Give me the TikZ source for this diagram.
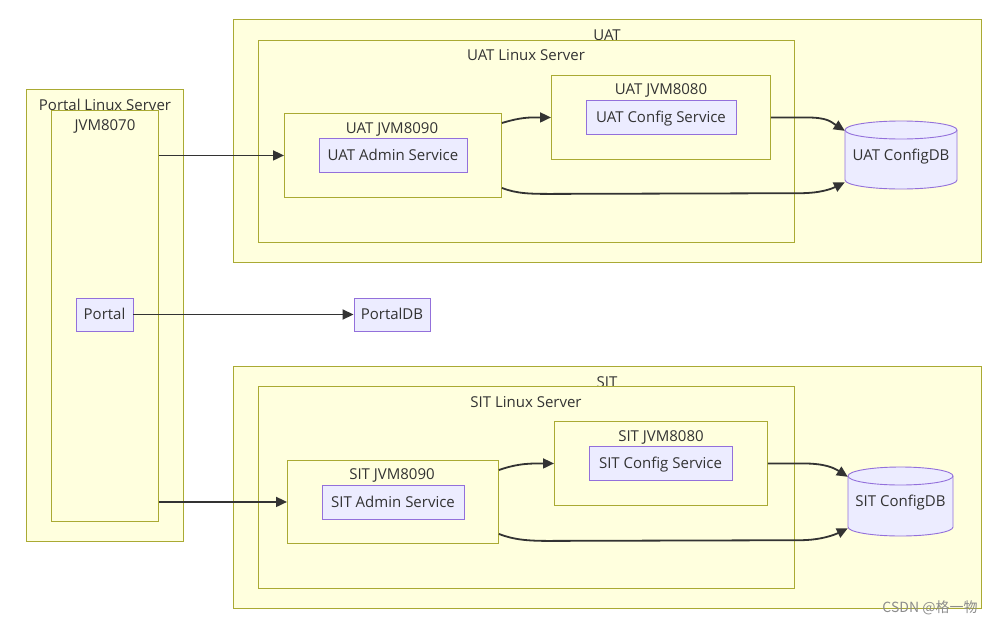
\documentclass[tikz,border=0pt]{standalone}
\usepackage{fontspec}
\setmainfont{Open Sans}
\newfontfamily\cjkfont{Noto Sans CJK SC}
\usetikzlibrary{arrows.meta,calc}
\definecolor{clfill}{HTML}{FFFFDE}
\definecolor{clline}{HTML}{AAAA33}
\definecolor{ndfill}{HTML}{ECECFF}
\definecolor{ndline}{HTML}{9370DB}
\definecolor{txt}{HTML}{333333}
\definecolor{edgec}{HTML}{333333}
\begin{document}
\begin{tikzpicture}[x=1pt,y=-1pt,
  cluster/.style={draw=clline, fill=clfill, line width=0.9pt, inner sep=0, anchor=north west},
  svc/.style={draw=ndline, fill=ndfill, line width=0.9pt, inner sep=0, text=txt, text height=13pt, text depth=3pt, font=\fontsize{15}{17}\selectfont},
  lbl/.style={text=txt, inner sep=0, font=\fontsize{15}{17}\selectfont},
  dblbl/.style={text=txt, inner sep=0, text height=13pt, text depth=3pt, font=\fontsize{15}{17}\selectfont},
  dbline/.style={draw=ndline, line width=0.9pt},
  flow/.style={draw=edgec, line width=1.8pt, -{Triangle[length=11pt,width=10pt]}}
]
\useasboundingbox (0,0) rectangle (1008,624);

% Portal cluster
\node[cluster, minimum width=157, minimum height=452] (portalsrv) at (26,89) {};
\node[lbl] (portalsrvlbl) at (105,105) {Portal Linux Server};
\node[cluster, minimum width=107, minimum height=411] (jvm8070) at (51,110) {};
\node[lbl] (jvm8070lbl) at (105,126) {JVM8070};
\node[svc, minimum width=57, minimum height=33] (portal) at (104.5,314.5) {Portal};
\node[svc, minimum width=76, minimum height=33] (portaldb) at (392,314.5) {PortalDB};

% UAT
\node[cluster, minimum width=748, minimum height=243] (uat) at (233,19) {};
\node[lbl] (uatlbl) at (607,35) {UAT};
\node[cluster, minimum width=536, minimum height=202] (uatsrv) at (258,40) {};
\node[lbl] (uatsrvlbl) at (526,55) {UAT Linux Server};
\node[cluster, minimum width=219, minimum height=84] (uat8080) at (551,75) {};
\node[lbl] (uat8080lbl) at (661,90) {UAT JVM8080};
\node[svc, minimum width=150, minimum height=34] (uatcfg) at (661,117) {UAT Config Service};
\node[cluster, minimum width=217, minimum height=84] (uat8090) at (284,113) {};
\node[lbl] (uat8090lbl) at (392,129) {UAT JVM8090};
\node[svc, minimum width=148, minimum height=34] (uatadm) at (393,155) {UAT Admin Service};
\filldraw[dbline, fill=ndfill] (845,130) -- (845,180) arc[start angle=180, end angle=0, x radius=56, y radius=9] -- (957,130) arc[start angle=0, end angle=-180, x radius=56, y radius=9] -- cycle;
\draw[dbline] (845,130) arc[start angle=180, end angle=0, x radius=56, y radius=9];
\node[dblbl, minimum width=112, minimum height=68] (uatdb) at (901,155) {UAT ConfigDB};

% SIT
\node[cluster, minimum width=748, minimum height=242] (sit) at (233,366) {};
\node[lbl] (sitlbl) at (607,382) {SIT};
\node[cluster, minimum width=536, minimum height=202] (sitsrv) at (258,386) {};
\node[lbl] (sitsrvlbl) at (526,402) {SIT Linux Server};
\node[cluster, minimum width=213, minimum height=84] (sit8080) at (554,421) {};
\node[lbl] (sit8080lbl) at (661,437) {SIT JVM8080};
\node[svc, minimum width=143, minimum height=34] (sitcfg) at (660.5,463) {SIT Config Service};
\node[cluster, minimum width=211, minimum height=83] (sit8090) at (287,460) {};
\node[lbl] (sit8090lbl) at (392,475) {SIT JVM8090};
\node[svc, minimum width=142, minimum height=34] (sitadm) at (393,502) {SIT Admin Service};
\filldraw[dbline, fill=ndfill] (848,476) -- (848,527) arc[start angle=180, end angle=0, x radius=52.5, y radius=9] -- (953,476) arc[start angle=0, end angle=-180, x radius=52.5, y radius=9] -- cycle;
\draw[dbline] (848,476) arc[start angle=180, end angle=0, x radius=52.5, y radius=9];
\node[dblbl, minimum width=105, minimum height=69] (sitdb) at (900.5,501.5) {SIT ConfigDB};

% edges
\draw[flow] (jvm8070.east |- uat8090.west) -- (uat8090.west);
\draw[flow] (portal.east) -- (portaldb.west);
\draw[flow] (jvm8070.east |- sit8090.west) -- (sit8090.west);

\draw[flow] ($(uat8090.north east)+(0,10)$) .. controls +(20,-6) and +(-22,0) .. (uat8080.west);
\draw[flow] (uat8080.east) -- ++(35,0) .. controls +(22,0) and +(-14,-9) .. ($(uatdb.north west)+(0,10)$);
\draw[flow] ($(uat8090.south east)+(0,-10)$) .. controls +(15,6) and +(-20,0) .. ++(50,6) -- ($(uatdb.south west)+(-45,4)$) .. controls +(22,0) and +(-12,6) .. ($(uatdb.south west)+(0,-7)$);

\draw[flow] ($(sit8090.north east)+(0,10)$) .. controls +(20,-7) and +(-22,0) .. (sit8080.west);
\draw[flow] (sit8080.east) -- ++(35,0) .. controls +(22,0) and +(-14,-9) .. ($(sitdb.north west)+(0,10)$);
\draw[flow] ($(sit8090.south east)+(0,-10)$) .. controls +(15,6) and +(-20,0) .. ++(50,7) -- ($(sitdb.south west)+(-48,4)$) .. controls +(22,0) and +(-12,6) .. ($(sitdb.south west)+(0,-8)$);

\node[text=black!45, inner sep=0, font=\cjkfont\fontsize{14}{16}\selectfont] (wm) at (930,608) {CSDN @格一物};
\end{tikzpicture}
\end{document}
